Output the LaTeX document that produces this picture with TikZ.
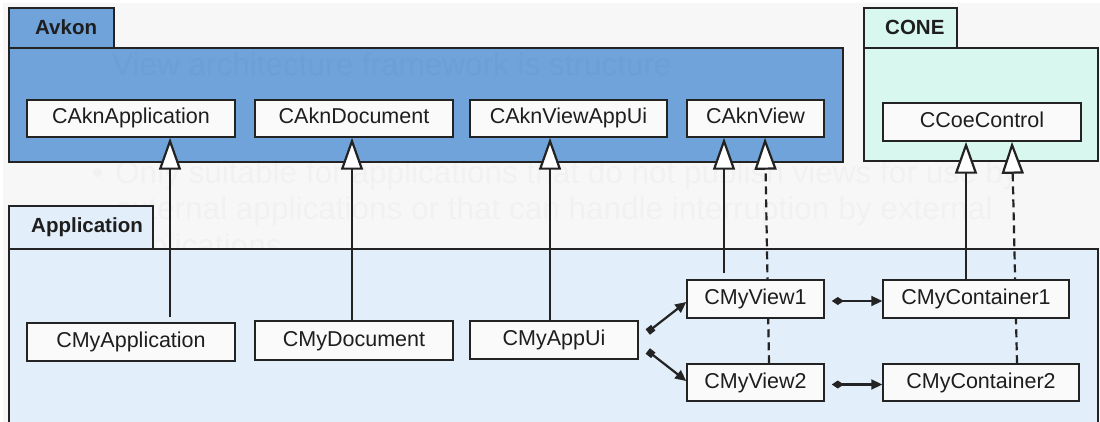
\documentclass[tikz,border=0pt]{standalone}
\usepackage{fontspec}
\setmainfont{Liberation Sans}
\usetikzlibrary{arrows.meta}

\definecolor{pagebg}{RGB}{247,247,247}
\definecolor{avkonfill}{RGB}{111,163,217}
\definecolor{conefill}{RGB}{216,247,238}
\definecolor{appfill}{RGB}{226,238,249}
\definecolor{boxfill}{RGB}{250,250,250}
\definecolor{linec}{RGB}{35,35,35}
\definecolor{textc}{RGB}{30,30,30}

\pgfdeclarelayer{packages}
\pgfdeclarelayer{links}
\pgfsetlayers{packages,links,main}

\tikzset{
  pkg/.style={draw=linec, line width=1.5pt},
  pkglabel/.style={anchor=base west, inner sep=0pt, text=textc,
    font=\fontsize{20.5}{24}\selectfont\bfseries},
  ghost/.style={anchor=base west, inner sep=0pt, text=black, text opacity=0.025,
    font=\fontsize{31.5}{36}\selectfont},
  cls/.style={draw=linec, fill=boxfill, line width=1.5pt, inner sep=0pt,
    text=textc, font=\fontsize{21.5}{24}\selectfont,
    text height=15.5pt, text depth=4.5pt},
  gen/.style={draw=linec, line width=2.2pt,
    -{Triangle[length=32pt, width=22pt, fill=white]}},
  realize/.style={gen, dash pattern=on 8pt off 5pt},
  owns/.style={draw=linec, line width=2.2pt,
    {Square[length=7pt, width=7pt]}-{Triangle[length=11pt, width=10pt]}},
  holds/.style={draw=linec, line width=2.2pt,
    {Diamond[length=12pt, width=8pt]}-{Triangle[length=11pt, width=10pt]}},
}

% class box given by its corners (x1,y1) (x2,y2)
\newcommand\classbox[6]{%
  \node[cls, minimum width={(#4-#2)*1pt}, minimum height={(#5-#3)*1pt}]
    (#1) at ({(#2+#4)/2},{(#3+#5)/2}) {#6};}

\begin{document}
\begin{tikzpicture}[x=1pt, y=-1pt]
\useasboundingbox (0,0) rectangle (1100,422);

% ---------------- packages and backdrop ----------------
\begin{pgfonlayer}{packages}
  \fill[white] (0,0) rectangle (1100,422);
  \fill[pagebg] (3,3) rectangle (1100,422);

  % Avkon
  \filldraw[pkg, fill=avkonfill] (9,8) rectangle (114,48);
  \filldraw[pkg, fill=avkonfill] (9,48) rectangle (843,162);
  \node[pkglabel] (avkonlbl) at (35,35) {Avkon};

  % CONE
  \filldraw[pkg, fill=conefill] (864,8) rectangle (957,48);
  \filldraw[pkg, fill=conefill] (864,48) rectangle (1098,161);
  \node[pkglabel] (conelbl) at (885,35) {CONE};

  % faint slide text behind the diagram
  \node[ghost] (g1) at (112,76) {View architecture framework is structure};
  \node[ghost] (g2b) at (92,184) {•};
  \node[ghost] (g2) at (115,184) {Only suitable for applications that do not publish views for use by};
  \node[ghost] (g3) at (115,219) {external applications or that can handle interruption by external};
  \node[ghost] (g4) at (115,256) {applications};

  % Application
  \filldraw[pkg, fill=appfill] (9,206) rectangle (153,249);
  \filldraw[pkg, fill=appfill] (9,249) rectangle (1098,440);
  \node[pkglabel] (applbl) at (31,233) {Application};
\end{pgfonlayer}

% ---------------- classes ----------------
\classbox{caknapp}{27}{100}{235}{137}{CAknApplication}
\classbox{cakndoc}{255}{100}{453}{137}{CAknDocument}
\classbox{caknvau}{470}{100}{667}{137}{CAknViewAppUi}
\classbox{caknview}{687}{100}{824}{137}{CAknView}
\classbox{ccoe}{883}{103}{1081}{141}{CCoeControl}

\classbox{cmyapp}{27}{323}{235}{361}{CMyApplication}
\classbox{cmydoc}{255}{321}{453}{360}{CMyDocument}
\classbox{cmyappui}{470}{321}{638}{359}{CMyAppUi}
\classbox{cmyview1}{687}{280}{824}{318}{CMyView1}
\classbox{cmyview2}{687}{364}{824}{401}{CMyView2}
\classbox{cmycont1}{883}{280}{1069}{318}{CMyContainer1}
\classbox{cmycont2}{883}{364}{1079}{401}{CMyContainer2}

% ---------------- relations ----------------
\begin{pgfonlayer}{links}
  \draw[gen, shorten <=5pt] ([xshift=39pt]cmyapp.north) -- ([xshift=39pt]caknapp.south);
  \draw[gen] ([xshift=-2pt]cmydoc.north) -- ([xshift=-2pt]cakndoc.south);
  \draw[gen] ([xshift=-4pt]cmyappui.north) -- ([xshift=-4pt]cmyappui.north |- caknvau.south);
  \draw[gen, shorten <=6pt] ([xshift=-31.5pt]cmyview1.north) -- ([xshift=-31.5pt]caknview.south);
  \draw[realize] ([xshift=13.5pt]cmyview2.north) -- ([xshift=9.5pt]caknview.south);
  \draw[gen] ([xshift=-10pt]cmycont1.north) -- ([xshift=-16pt]ccoe.south);
  \draw[realize] ([xshift=36pt]cmycont2.north) -- ([xshift=30pt]ccoe.south);

  \draw[owns] ([xshift=9pt, yshift=8pt]cmyappui.east) -- ([yshift=-3pt]cmyview1.west);
  \draw[owns] ([xshift=9pt, yshift=-11pt]cmyappui.east) -- ([yshift=1.5pt]cmyview2.west);
  \draw[holds] ([xshift=7pt, yshift=-2pt]cmyview1.east) -- ([yshift=-2pt]cmycont1.west);
  \draw[holds] ([xshift=7pt, yshift=-2pt]cmyview2.east) -- ([yshift=-2pt]cmycont2.west);
\end{pgfonlayer}
\end{tikzpicture}
\end{document}
